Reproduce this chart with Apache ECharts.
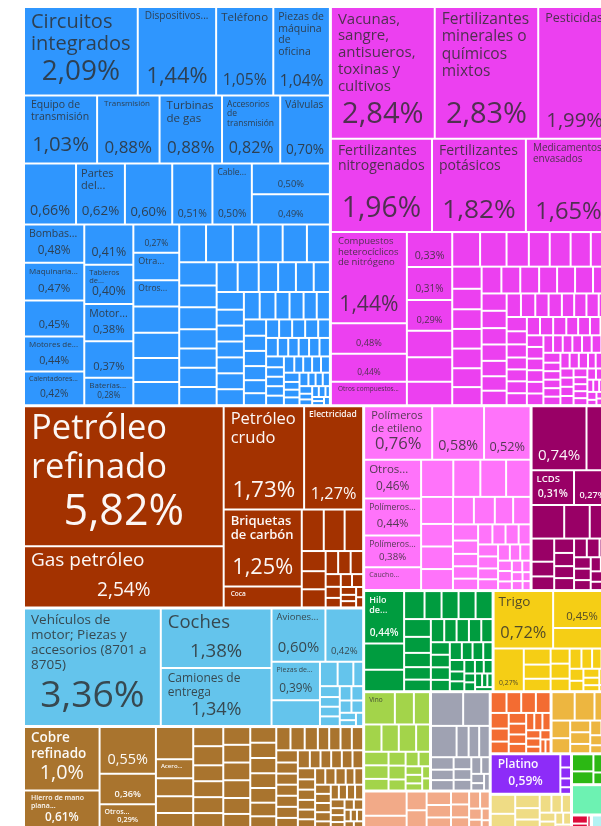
<!DOCTYPE html>
<html>
<head>
<meta charset="utf-8">
<script src="https://cdn.jsdelivr.net/npm/echarts@6/dist/echarts.min.js"></script>
<style>
  html, body { margin: 0; padding: 0; background: #fff; }
  #main { width: 601px; height: 826px; }
</style>
</head>
<body>
<div id="main"></div>
<script>
// ---- datos: participación en las importaciones (%) ----
// nombres visibles en el gráfico; '' = celda sin nombre
const maqNames = ['Circuitos integrados', 'Dispositivos...', 'Teléfono', 'Piezas de máquina de oficina',
  'Equipo de transmisión', 'Transmisión', 'Turbinas de gas', 'Accesorios de transmisión', 'Válvulas',
  '', 'Partes del...', '', '', 'Cable...', '', '',
  'Bombas...', 'Maquinaria...', '', 'Motores de...', 'Calentadores...', '', 'Tableros de...', 'Motor...', '',
  'Baterías...', 'Motores de...', 'Otra...', 'Otros...'];
const maqValues = [2.09, 1.44, 1.05, 1.04,
  1.03, 0.88, 0.88, 0.82, 0.70,
  0.66, 0.62, 0.60, 0.51, 0.50, 0.50, 0.49,
  0.48, 0.47, 0.45, 0.44, 0.42, 0.41, 0.40, 0.38, 0.37, 0.28, 0.27, 0.26, 0.25,
  0.25, 0.24, 0.23, 0.22, 0.21, 0.21, 0.20, 0.19, 0.19, 0.18, 0.18, 0.17, 0.17,
  0.15, 0.15, 0.15, 0.14, 0.13, 0.13, 0.12, 0.11, 0.11, 0.10, 0.10,
  0.09, 0.09, 0.09, 0.09, 0.09, 0.09, 0.09, 0.09, 0.08, 0.08, 0.075, 0.075, 0.075, 0.07, 0.07, 0.065, 0.06, 0.055,
  0.05, 0.05, 0.05, 0.05, 0.045, 0.045, 0.04, 0.04, 0.04, 0.04, 0.04, 0.04,
  0.035, 0.035, 0.035, 0.035, 0.035, 0.03, 0.03, 0.03, 0.03, 0.03,
  0.025, 0.025, 0.025, 0.025, 0.02, 0.02, 0.02, 0.02, 0.015, 0.015, 0.015, 0.015, 0.01, 0.01, 0.01, 0.01];

const quiNames = ['Vacunas, sangre, antisueros, toxinas y cultivos', 'Fertilizantes minerales o químicos mixtos', 'Pesticidas',
  'Fertilizantes nitrogenados', 'Fertilizantes potásicos', 'Medicamentos envasados',
  'Compuestos heterocíclicos de nitrógeno', '', '', 'Otros compuestos...', '', '', '', '', '', '', '', '',
  'Otra...', '', 'Ácidos...'];
const quiValues = [2.84, 2.83, 1.99,
  1.96, 1.82, 1.65,
  1.44, 0.48, 0.44, 0.37, 0.33, 0.31, 0.29, 0.25, 0.23, 0.22, 0.20, 0.19,
  0.16, 0.15, 0.15, 0.145, 0.145, 0.135, 0.125, 0.12, 0.12, 0.12, 0.115, 0.11, 0.11, 0.105, 0.105,
  0.10, 0.10, 0.10, 0.10, 0.09, 0.09, 0.085, 0.085, 0.08, 0.075, 0.075, 0.07, 0.07, 0.065, 0.065,
  0.06, 0.06, 0.06, 0.06, 0.06, 0.055, 0.055, 0.05, 0.05, 0.05, 0.05, 0.05, 0.05, 0.05, 0.045, 0.045,
  0.04, 0.04, 0.04, 0.04, 0.04, 0.04, 0.04, 0.04, 0.035, 0.035, 0.035, 0.035, 0.035, 0.035, 0.035, 0.035,
  0.03, 0.03, 0.03, 0.03, 0.03, 0.03, 0.03, 0.03, 0.025, 0.025, 0.025, 0.025, 0.025, 0.025, 0.025, 0.025,
  0.02, 0.02, 0.02, 0.02, 0.02, 0.02, 0.015, 0.015, 0.015, 0.015, 0.015, 0.015, 0.01, 0.01, 0.01, 0.01, 0.01];

const minNames = ['Petróleo refinado', 'Gas petróleo', 'Petróleo crudo', 'Electricidad', 'Briquetas de carbón', 'Coca'];
const minValues = [5.82, 2.54, 1.73, 1.27, 1.25, 0.34, 0.19, 0.18, 0.16, 0.10, 0.09, 0.09, 0.06, 0.06, 0.06,
  0.04, 0.035, 0.03, 0.03, 0.03, 0.025, 0.02, 0.02, 0.015, 0.015];

const traNames = ['Vehículos de motor; Piezas y accesorios (8701 a 8705)', 'Coches', 'Camiones de entrega', 'Aviones...', '', 'Piezas de...'];
const traValues = [3.36, 1.38, 1.34, 0.60, 0.42, 0.39, 0.26, 0.09, 0.08, 0.05, 0.045, 0.04, 0.04, 0.04,
  0.035, 0.035, 0.03, 0.03, 0.025, 0.02, 0.02];

const metNames = ['Cobre refinado', 'Hierro de mano plana...', '', '', 'Otros...', '', 'Acero...'];
const metValues = [1.0, 0.61, 0.55, 0.36, 0.29, 0.25, 0.15, 0.14, 0.13, 0.125, 0.12, 0.12,
  0.10, 0.10, 0.10, 0.10, 0.10, 0.10, 0.10, 0.10, 0.09, 0.085, 0.085, 0.083, 0.083, 0.08, 0.08, 0.074,
  0.069, 0.069, 0.069, 0.064, 0.055, 0.055, 0.055, 0.055, 0.055, 0.05, 0.05, 0.05, 0.05, 0.05, 0.05, 0.045,
  0.04, 0.04, 0.04, 0.04, 0.04, 0.04, 0.037, 0.037, 0.035, 0.035, 0.035, 0.035, 0.035, 0.035,
  0.03, 0.03, 0.03, 0.03, 0.03, 0.03, 0.025, 0.025, 0.025, 0.025, 0.025, 0.025,
  0.02, 0.02, 0.02, 0.02, 0.02, 0.015, 0.015, 0.015, 0.015, 0.015];

const plaNames = ['Polímeros de etileno', '', '', 'Otros...', 'Polímeros...', 'Polímeros...', 'Caucho...'];
const plaValues = [0.76, 0.58, 0.52, 0.46, 0.44, 0.38, 0.27, 0.25, 0.21, 0.20, 0.19, 0.18, 0.15, 0.15, 0.14,
  0.12, 0.12, 0.105, 0.10, 0.085, 0.07, 0.065, 0.065, 0.06, 0.06, 0.055, 0.055, 0.05, 0.05, 0.05, 0.045, 0.045,
  0.04, 0.035, 0.035, 0.03, 0.03, 0.025, 0.025, 0.02, 0.02, 0.02, 0.015, 0.015];

const insNames = ['', '', 'LCDS'];
const insValues = [0.74, 0.33, 0.31, 0.27, 0.23, 0.18, 0.15, 0.11, 0.07, 0.065, 0.06, 0.055, 0.05, 0.05, 0.05,
  0.05, 0.045, 0.04, 0.04, 0.035, 0.03, 0.03, 0.025, 0.02, 0.02, 0.015];

const texNames = ['Hilo de...'];
const texValues = [0.44, 0.22, 0.18, 0.12, 0.10, 0.10, 0.10, 0.10, 0.10, 0.09, 0.08, 0.07, 0.065, 0.065, 0.06,
  0.06, 0.06, 0.055, 0.05, 0.05, 0.05, 0.045, 0.045, 0.04, 0.04, 0.035, 0.035, 0.03, 0.03, 0.03, 0.025, 0.025,
  0.02, 0.02, 0.02, 0.015, 0.015, 0.015];

const vegNames = ['Trigo'];
const vegValues = [0.72, 0.45, 0.25, 0.27, 0.09, 0.08, 0.07, 0.06, 0.06, 0.05, 0.05, 0.045, 0.04, 0.04, 0.035,
  0.03, 0.03, 0.025, 0.02, 0.02, 0.02, 0.015];

const aliNames = ['Vino'];
const aliValues = [0.21, 0.13, 0.11, 0.10, 0.10, 0.10, 0.08, 0.07, 0.07, 0.06, 0.05, 0.05, 0.04, 0.04, 0.035,
  0.03, 0.03, 0.025, 0.02, 0.02];
const misValues = [0.23, 0.19, 0.17, 0.08, 0.07, 0.07, 0.06, 0.05, 0.05, 0.045, 0.04, 0.04, 0.035, 0.03, 0.025, 0.02, 0.02];
const madValues = [0.22, 0.12, 0.08, 0.08, 0.07, 0.065, 0.06, 0.05, 0.05, 0.045, 0.04, 0.035, 0.03, 0.025, 0.02, 0.015];
const aniValues = [0.07, 0.065, 0.065, 0.065, 0.06, 0.05, 0.045, 0.04, 0.04, 0.035, 0.035, 0.03, 0.03, 0.03,
  0.025, 0.025, 0.02, 0.02, 0.015, 0.015];
const subValues = [0.14, 0.12, 0.10, 0.07, 0.06, 0.05, 0.05, 0.04, 0.035, 0.03, 0.025, 0.02, 0.02, 0.015];
const preNames = ['Platino'];
const preValues = [0.59, 0.03, 0.025, 0.02, 0.015];
const pieValues = [0.1, 0.08, 0.07, 0.06, 0.05, 0.045, 0.04, 0.035, 0.03, 0.025, 0.02, 0.02, 0.015];
const papValues = [0.08, 0.06, 0.04, 0.03, 0.025, 0.02];
const calValues = [0.2, 0.03, 0.02];
const cueValues = [0.03, 0.02, 0.01];
const arteValues = [0.04, 0.02];

const COL = {
  maq: '#2f96fe', qui: '#ec40f0', min: '#a33200', tra: '#64c4ec', met: '#a9742e',
  pla: '#ff73fa', ins: '#990066', tex: '#009c3f', veg: '#f5ce15', ali: '#a3d44a',
  mis: '#9fa2b2', mad: '#f2aa88', ani: '#f36c32', sub: '#edb640', pre: '#8d2cf8',
  pie: '#efdc85', pap: '#2cb814', cal: '#6df2b2', cue: '#dd0c3b', arte: '#b3f3f3'
};
const DARK = 'rgba(45,45,45,0.82)';
const LIGHT = 'rgba(255,255,255,0.96)';
const FONT = '"Open Sans", "Noto Sans", sans-serif';

// ---- texto ----
const mctx = document.createElement('canvas').getContext('2d');
function textW(s, f, wt) {
  mctx.font = wt + ' ' + f + 'px ' + FONT;
  return mctx.measureText(s).width;
}
function wrap(name, maxW, f, wt) {
  const words = name.split(' ');
  const lines = [];
  let cur = '';
  for (const w of words) {
    if (textW(w, f, wt) > maxW) return null;
    const t = cur ? cur + ' ' + w : w;
    if (textW(t, f, wt) <= maxW) cur = t;
    else { lines.push(cur); cur = w; }
  }
  if (cur) lines.push(cur);
  return lines;
}
function fmtPct(v) {
  let s = v.toFixed(2).replace('.', ',');
  if (s.endsWith(',00')) s = s.slice(0, -1);
  return s + '%';
}
function makeLabel(name, value, w, h, txt) {
  const light = txt === LIGHT;
  const padX = w >= 60 ? 6 : 4;
  const padT = 3;
  const boxW = w - 2 * padX;
  let pf = Math.min(w / 3.5, h / 3.1, 43);
  const pText = fmtPct(value);
  const pwt = light && pf < 14 ? 600 : 'normal';
  const pw = textW(pText, pf, pwt);
  if (pw > boxW - 1) pf = pf * (boxW - 1) / pw;
  const showPct = value >= 0.27 && h >= 22 && w >= 24 && pf >= 6.5;
  const padB = showPct ? 2 + 0.2 * pf : 3;
  const boxH = h - padT - padB;
  const pctH = showPct ? pf : 0;
  let lines = null, nf = 0, nw = 'normal';
  if (name && boxW > 10) {
    const maxF = Math.min(36, w / 4.2, showPct ? pf : h * 0.36);
    for (let f = Math.floor(maxF * 2) / 2; f >= 6; f -= 0.5) {
      const wt = light && f < 14 ? 600 : 'normal';
      const ls = wrap(name, boxW, f, wt);
      if (ls && ls.length * f * 1.18 <= boxH - pctH) { lines = ls; nf = f; nw = wt; break; }
    }
  }
  if (!showPct && !lines) return { show: false };
  const rich = {};
  const parts = [];
  let used = 0;
  if (lines) {
    rich.n = { fontFamily: FONT, fontSize: nf, lineHeight: nf * 1.12, color: txt, fontWeight: nw };
    lines.forEach(function (l) { parts.push('{n|' + l + '}'); });
    used = lines.length * nf * 1.12;
  }
  if (showPct) {
    const gap = boxH - used - pctH - 0.5;
    if (gap >= 1) { rich.s = { fontSize: 1, lineHeight: gap }; parts.push('{s| }'); }
    rich.p = { fontFamily: FONT, fontSize: pf, lineHeight: pctH, color: txt, align: 'center', fontWeight: pwt };
    parts.push('{p|' + pText + '}');
  }
  return { show: true, position: 'insideTopLeft', padding: [padT, padX, padB, padX],
    formatter: parts.join('\n'), rich: rich };
}

// ---- árbol ----
let uid = 0;
function buildData(labelFn) {
  uid = 0;
  function leaf(name, value, color, txt) {
    const id = 'n' + (uid++);
    return { id: id, name: name, value: value, itemStyle: { color: color, borderWidth: 0 },
      label: labelFn(id, name, value, txt) };
  }
  function box(children, gap) {
    return { id: 'n' + (uid++), name: '', children: children,
      itemStyle: { gapWidth: gap, borderWidth: 0, borderColor: '#fff' } };
  }
  // una celda tras otra, cada una como columna propia
  function chain(items) {
    if (items.length <= 2) return box(items, 2);
    return box([items[0], chain(items.slice(1))], 2);
  }
  function part(names, values, color, txt) {
    return function (a, b) {
      const out = [];
      const end = b === undefined ? values.length : b;
      for (let i = a; i < end; i++) out.push(leaf(names[i] || '', values[i], color, txt));
      return out;
    };
  }
  const M = part(maqNames, maqValues, COL.maq, DARK);
  const Q = part(quiNames, quiValues, COL.qui, DARK);
  const P = part(plaNames, plaValues, COL.pla, DARK);
  const V = part(vegNames, vegValues, COL.veg, DARK);
  const I = part(insNames, insValues, COL.ins, LIGHT);
  const flat = function (names, values, color, txt) { return box(part(names, values, color, txt)(0), 2); };

  const machines = box([...M(0, 4), box([...M(4, 9), box([chain(M(9, 16)), box(M(16), 2)], 2)], 2)], 2);
  const chemicals = box([...Q(0, 3), box([box(Q(3, 6), 2), box(Q(6), 2)], 2)], 2);
  const mineral = flat(minNames, minValues, COL.min, LIGHT);
  const transport = flat(traNames, traValues, COL.tra, DARK);
  const metals = flat(metNames, metValues, COL.met, LIGHT);
  const plastics = box([...P(0, 3), box(P(3), 2)], 2);
  const instruments = box([...I(0, 2), box([...I(2, 4), box(I(4), 2)], 2)], 2);
  const textiles = flat(texNames, texValues, COL.tex, LIGHT);
  const vegetable = box([box(V(0, 3), 2), box(V(3), 2)], 2);
  const food = flat(aliNames, aliValues, COL.ali, DARK);
  const misc = flat([], misValues, COL.mis, DARK);
  const wood = flat([], madValues, COL.mad, DARK);
  const animal = flat([], aniValues, COL.ani, LIGHT);
  const byprod = flat([], subValues, COL.sub, DARK);
  const precious = flat(preNames, preValues, COL.pre, LIGHT);
  const stone = flat([], pieValues, COL.pie, DARK);
  const paper = flat([], papValues, COL.pap, LIGHT);
  const shoes = flat([], calValues, COL.cal, DARK);
  const hides = flat([], cueValues, COL.cue, LIGHT);
  const art = flat([], arteValues, COL.arte, DARK);

  return [machines, chemicals,
    box([
      box([box([mineral, transport], 3), metals], 3),
      box([plastics, instruments], 3),
      box([
        box([textiles, vegetable], 3),
        box([
          box([food, misc, wood], 3),
          box([animal, byprod, box([precious, stone, box([paper, box([shoes, hides, art], 3)], 3)], 3)], 3)
        ], 3)
      ], 3)
    ], 3)];
}

function makeOption(data) {
  return {
    animation: false,
    series: [{
      type: 'treemap',
      left: 25, top: 8, width: 585, height: 820,
      roam: false,
      nodeClick: false,
      sort: false,
      drillDownIcon: '',
      breadcrumb: { show: false },
      itemStyle: { borderWidth: 0, gapWidth: 0, borderColor: '#fff' },
      levels: [{ itemStyle: { borderWidth: 0, gapWidth: 3, borderColor: '#fff' } }],
      label: { show: true, position: 'insideTopLeft', fontFamily: FONT },
      upperLabel: { show: false },
      data: data
    }]
  };
}

const chart = echarts.init(document.getElementById('main'));
chart.setOption(makeOption(buildData(function () { return { show: false }; })));

// segunda pasada: tamaños de las celdas para colocar los textos
const sizes = {};
const sd = chart.getModel().getSeriesByIndex(0).getData();
sd.tree.root.eachNode(function (node) {
  const lay = node.getLayout();
  if (lay) sizes[node.getId()] = [lay.width, lay.height];
});
chart.setOption(makeOption(buildData(function (id, name, value, txt) {
  const s = sizes[id];
  if (!s) return { show: false };
  return makeLabel(name, value, s[0], s[1], txt);
})), true);
</script>
</body>
</html>
